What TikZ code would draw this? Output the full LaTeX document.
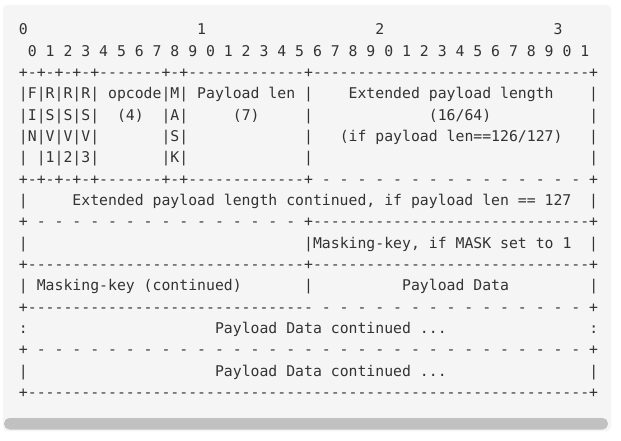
\documentclass[tikz,border=0pt]{standalone}
\usepackage{fontspec}
\setmonofont{DejaVu Sans Mono}
\definecolor{codebg}{HTML}{F5F5F5}
\definecolor{codefg}{HTML}{333333}
\definecolor{barfg}{HTML}{C1C1C1}
\begingroup
\catcode`\ =\active%
\gdef {\ }%
\gdef\La{0                   1                   2                   3}%
\gdef\Lb{ 0 1 2 3 4 5 6 7 8 9 0 1 2 3 4 5 6 7 8 9 0 1 2 3 4 5 6 7 8 9 0 1}%
\gdef\Lc{+-+-+-+-+-------+-+-------------+-------------------------------+}%
\gdef\Ld{|F|R|R|R| opcode|M| Payload len |    Extended payload length    |}%
\gdef\Le{|I|S|S|S|  (4)  |A|     (7)     |             (16/64)           |}%
\gdef\Lf{|N|V|V|V|       |S|             |   (if payload len==126/127)   |}%
\gdef\Lg{| |1|2|3|       |K|             |                               |}%
\gdef\Lh{+-+-+-+-+-------+-+-------------+ - - - - - - - - - - - - - - - +}%
\gdef\Li{|     Extended payload length continued, if payload len == 127  |}%
\gdef\Lj{+ - - - - - - - - - - - - - - - +-------------------------------+}%
\gdef\Lk{|                               |Masking-key, if MASK set to 1  |}%
\gdef\Ll{+-------------------------------+-------------------------------+}%
\gdef\Lm{| Masking-key (continued)       |          Payload Data         |}%
\gdef\Ln{+-------------------------------- - - - - - - - - - - - - - - - +}%
\gdef\Lo{:                     Payload Data continued ...                :}%
\gdef\Lp{+ - - - - - - - - - - - - - - - - - - - - - - - - - - - - - - - +}%
\gdef\Lq{|                     Payload Data continued ...                |}%
\gdef\Lr{+---------------------------------------------------------------+}%
\endgroup
\tikzset{
  asciiline/.style={anchor=base west, inner sep=0pt, outer sep=0pt,
    text=codefg, font=\ttfamily\fontsize{14.8}{17}\selectfont},
}
\begin{document}
\begin{tikzpicture}[x=1pt,y=-1pt]
\useasboundingbox (0,0) rectangle (621,441);
\fill[white] (0,0) rectangle (621,441);
\fill[codebg, rounded corners=4pt] (3,5) rectangle (611,431);
\fill[barfg, rounded corners=5.5pt] (4,418) rectangle (608,429.5);
\foreach \cmd [count=\k from 0] in {\La,\Lb,\Lc,\Ld,\Le,\Lf,\Lg,\Lh,\Li,\Lj,\Lk,\Ll,\Lm,\Ln,\Lo,\Lp,\Lq,\Lr}{
  \node[asciiline] (line\k) at (19, 35+21.33*\k) {\cmd};
}
\end{tikzpicture}
\end{document}
